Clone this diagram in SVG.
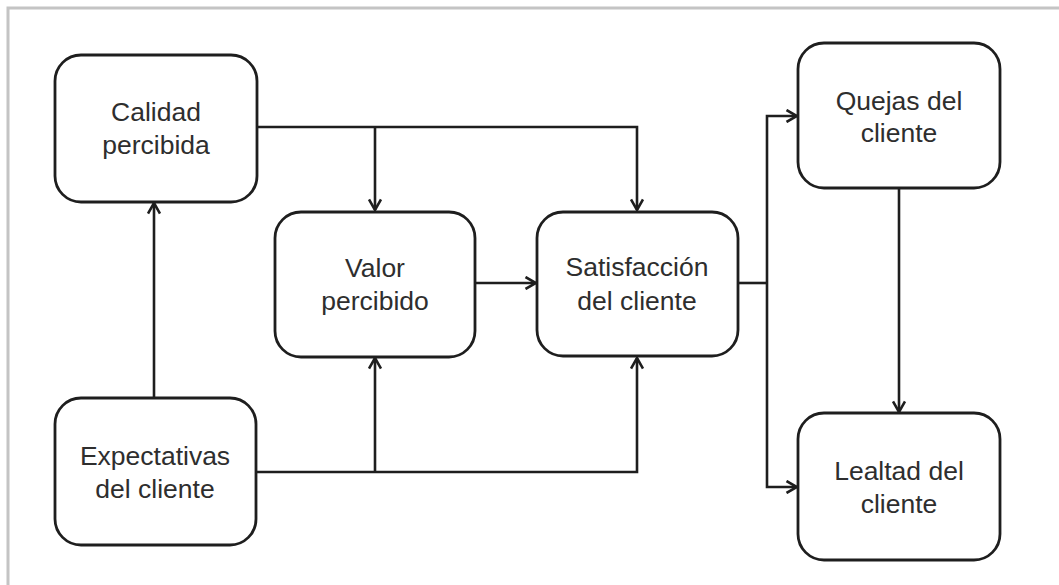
<svg xmlns="http://www.w3.org/2000/svg" width="1059" height="585" viewBox="0 0 1059 585">
<style>
.box{fill:#fff;stroke:#1e1e1e;stroke-width:2.8}
.lbl{font-family:"Liberation Sans",Arial,sans-serif;font-size:26.5px;fill:#2e2e2e;text-anchor:middle}
.con{fill:none;stroke:#1e1e1e;stroke-width:2.6}
.frame{fill:none;stroke:#c4c4c4;stroke-width:3}
</style>
<defs>
<marker id="arr" viewBox="0 0 14 14" markerWidth="14" markerHeight="14" refX="12.5" refY="7" orient="auto" markerUnits="userSpaceOnUse">
<path d="M2,1 L12.5,7 L2,13" fill="none" stroke="#1e1e1e" stroke-width="2.6"/>
</marker>
</defs>
<rect width="1059" height="585" fill="#fff"/>
<path class="frame" d="M8,585 L8,8 L1059,8"/>
<g id="connectors">
<path class="con" d="M257,127 H637 V210" marker-end="url(#arr)"/>
<path class="con" d="M375,127 V210" marker-end="url(#arr)"/>
<path class="con" d="M475,283 H536" marker-end="url(#arr)"/>
<path class="con" d="M738,283 H767"/>
<path class="con" d="M767,283 V116 H797" marker-end="url(#arr)"/>
<path class="con" d="M767,283 V487 H797" marker-end="url(#arr)"/>
<path class="con" d="M899,188 V412" marker-end="url(#arr)"/>
<path class="con" d="M154,398 V203" marker-end="url(#arr)"/>
<path class="con" d="M256,472 H637 V358" marker-end="url(#arr)"/>
<path class="con" d="M375,472 V358" marker-end="url(#arr)"/>
</g>
<g id="calidad">
<rect class="box" x="55" y="55" width="202" height="147" rx="26"/>
<text class="lbl" x="156" y="121">Calidad</text>
<text class="lbl" x="156" y="154">percibida</text>
</g>
<g id="valor">
<rect class="box" x="275" y="212" width="200" height="145" rx="26"/>
<text class="lbl" x="375" y="277">Valor</text>
<text class="lbl" x="375" y="310">percibido</text>
</g>
<g id="satisfaccion">
<rect class="box" x="537" y="212" width="201" height="144" rx="26"/>
<text class="lbl" x="637" y="276">Satisfacción</text>
<text class="lbl" x="637" y="310">del cliente</text>
</g>
<g id="quejas">
<rect class="box" x="798" y="43" width="202" height="145" rx="26"/>
<text class="lbl" x="899" y="110">Quejas del</text>
<text class="lbl" x="899" y="142">cliente</text>
</g>
<g id="lealtad">
<rect class="box" x="798" y="413" width="202" height="147" rx="26"/>
<text class="lbl" x="899" y="480">Lealtad del</text>
<text class="lbl" x="899" y="513">cliente</text>
</g>
<g id="expectativas">
<rect class="box" x="55" y="398" width="201" height="147" rx="26"/>
<text class="lbl" x="155" y="465">Expectativas</text>
<text class="lbl" x="155" y="498">del cliente</text>
</g>
</svg>
